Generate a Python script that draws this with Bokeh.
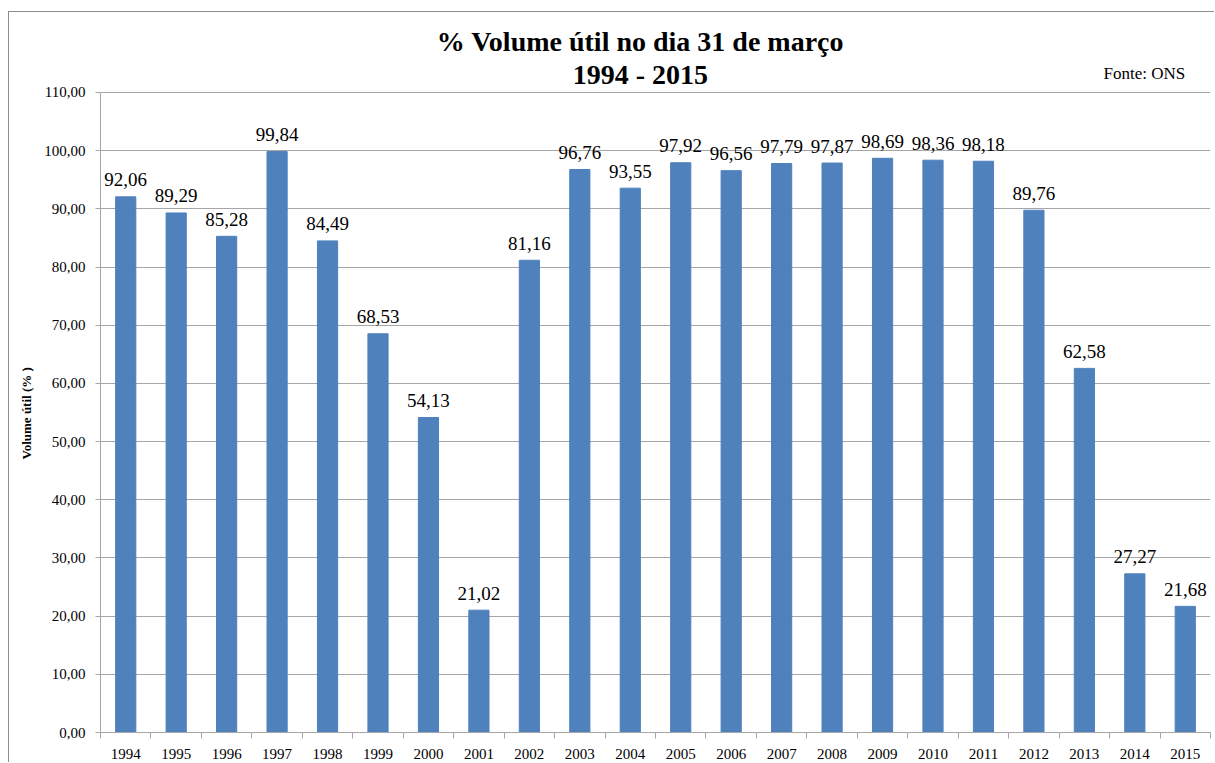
from bokeh.plotting import figure
from bokeh.models import ColumnDataSource, FixedTicker, Range1d, Title
from bokeh.embed import file_html
from bokeh.resources import INLINE
from bokeh.core.properties import value

years = ["1994", "1995", "1996", "1997", "1998", "1999", "2000", "2001", "2002", "2003", "2004",
         "2005", "2006", "2007", "2008", "2009", "2010", "2011", "2012", "2013", "2014", "2015"]
volume = [92.06, 89.29, 85.28, 99.84, 84.49, 68.53, 54.13, 21.02, 81.16, 96.76, 93.55,
          97.92, 96.56, 97.79, 97.87, 98.69, 98.36, 98.18, 89.76, 62.58, 27.27, 21.68]
y_ticks = [0, 10, 20, 30, 40, 50, 60, 70, 80, 90, 100, 110]

title_line1 = "% Volume útil no dia 31 de março"
title_line2 = "1994 - 2015"
source_note = "Fonte: ONS"
y_label = "Volume útil (% )"

FONT = "Liberation Serif"
GRID = "#a6a6a6"

W, H = 1206, 751
Y_MAX = 110          # top of the value axis
Y_VIEW = 123.4       # visible range extends above the axis to hold the titles

idx = list(range(len(years)))
src = ColumnDataSource(dict(x=idx, top=volume,
                            label=[f"{v:.2f}".replace(".", ",") for v in volume]))

p = figure(width=W, height=H, output_backend="svg", toolbar_location=None,
           x_range=Range1d(-0.5, len(years) - 0.5), y_range=Range1d(0, Y_VIEW),
           min_border_left=88, min_border_right=5, min_border_top=2, min_border_bottom=31)
p.styles = {"border-left": "1px solid #8c8c8c", "border-top": "1px solid #8c8c8c",
            "margin-left": "8px", "margin-top": "11px"}
p.outline_line_color = None
p.background_fill_color = "white"

p.vbar(x="x", top="top", width=0.4, bottom=0, source=src,
       fill_color="#4f81bd", line_color="#4f81bd")
p.text(x="x", y="top", text="label", source=src, text_align="center",
       text_baseline="alphabetic", y_offset=-17, text_font=value(FONT),
       text_font_size="19px", text_color="black")

# titles inside the extended view area
p.text(x=[10.2], y=[118.75], text=[title_line1], text_align="center", text_baseline="alphabetic",
       text_font=value(FONT), text_font_size="28px", text_font_style="bold", text_color="black")
p.text(x=[10.2], y=[113.1], text=[title_line2], text_align="center", text_baseline="alphabetic",
       text_font=value(FONT), text_font_size="28px", text_font_style="bold", text_color="black")
p.text(x=[21.0], y=[113.3], text=[source_note], text_align="right", text_baseline="alphabetic",
       text_font=value(FONT), text_font_size="17px", text_color="black")

# x axis: labels at centers, ticks between categories
xa = p.xaxis[0]
xa.ticker = FixedTicker(ticks=idx, minor_ticks=[i - 0.5 for i in range(len(years) + 1)])
xa.major_label_overrides = {i: y for i, y in enumerate(years)}
xa.major_tick_out = 0
xa.major_tick_in = 0
xa.minor_tick_out = 6
xa.minor_tick_in = 0
xa.minor_tick_line_color = GRID
xa.axis_line_color = GRID
xa.major_label_standoff = 10
xa.major_label_text_font = FONT
xa.major_label_text_font_size = "15px"
xa.major_label_text_color = "black"

ya = p.yaxis[0]
ya.ticker = FixedTicker(ticks=y_ticks)
ya.bounds = (0, Y_MAX)
ya.major_label_overrides = {t: f"{t},00" for t in y_ticks}
ya.major_tick_out = 5
ya.major_tick_in = 0
ya.minor_tick_line_color = None
ya.major_tick_line_color = GRID
ya.axis_line_color = GRID
ya.major_label_standoff = 10
ya.major_label_text_font = FONT
ya.major_label_text_font_size = "15px"
ya.major_label_text_color = "black"

p.xgrid.grid_line_color = None
p.ygrid.grid_line_color = GRID
p.ygrid.ticker = FixedTicker(ticks=y_ticks)

# y axis title, positioned along the 0..110 span
p.add_layout(Title(text=y_label, align="left", offset=273, standoff=15, vertical_align="bottom",
                   text_font=FONT, text_font_size="13px", text_font_style="bold",
                   text_color="black"), "left")

open("out.html", "w").write(file_html(p, INLINE))
